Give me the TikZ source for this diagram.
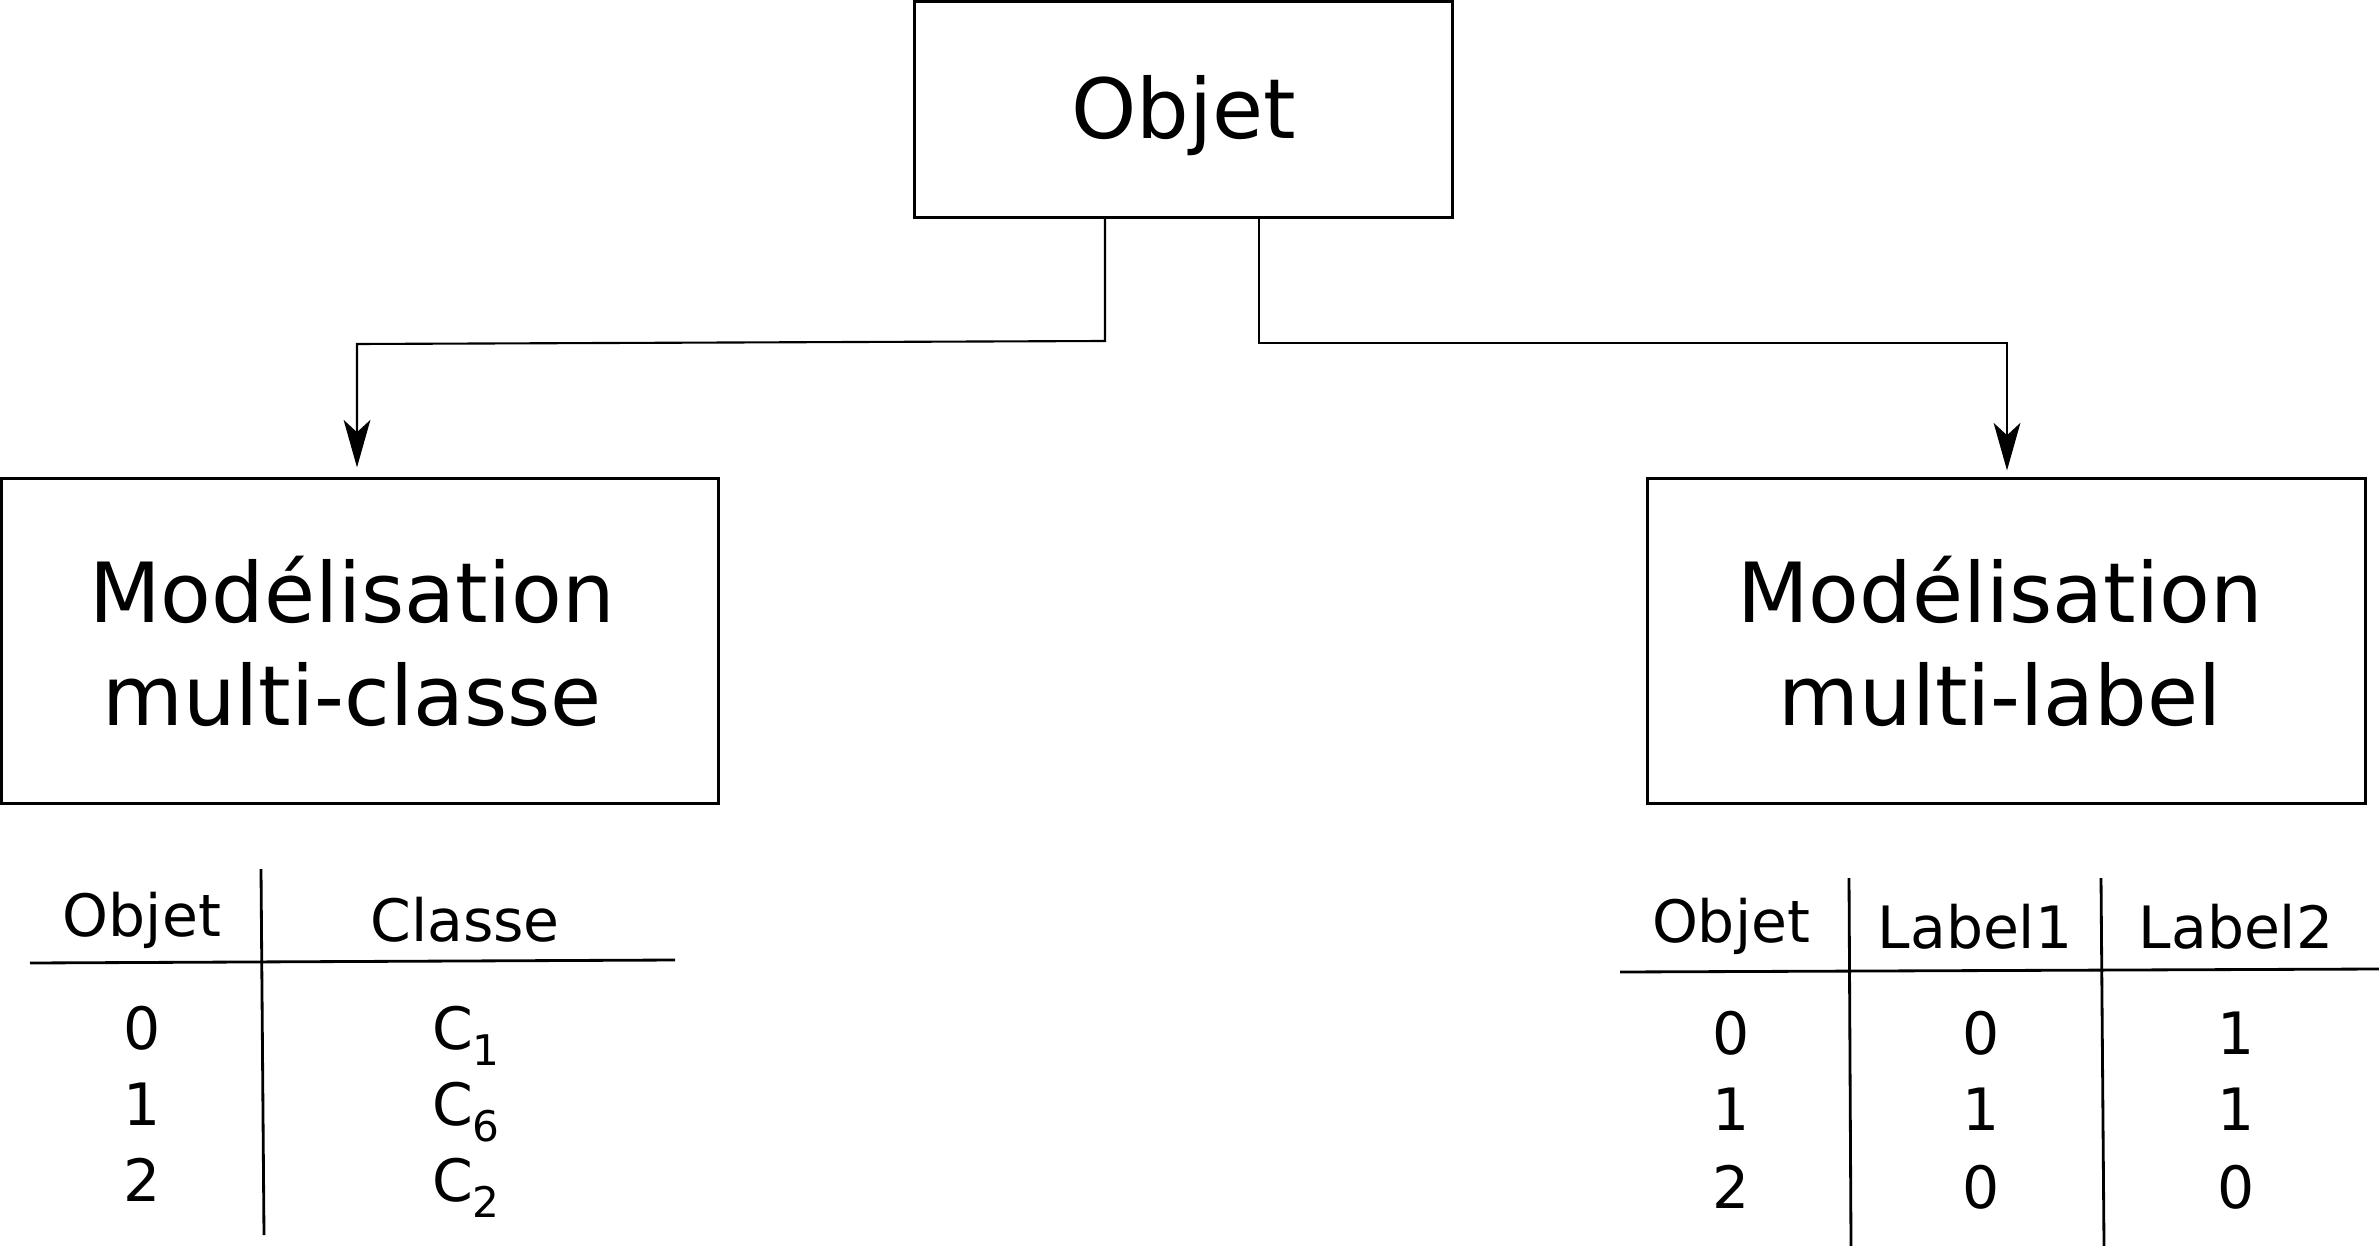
\documentclass[tikz,border=0pt]{standalone}
\usepackage{fontspec}
\setmainfont{DejaVu Sans}
\usetikzlibrary{arrows.meta}
\newcommand{\csub}[1]{C\raisebox{-0.28em}{\fontsize{12}{12}\selectfont #1}}
\begin{document}
\begin{tikzpicture}[x=0.01cm,y=-0.01cm,
  box/.style={draw,line width=0.85pt,rectangle,inner sep=0pt,align=center,
    font=\fontsize{23.6}{29.3}\selectfont},
  conn/.style={line width=0.6pt,-{Stealth[length=13.5pt,width=7.6pt,inset=3.5pt]}},
  tline/.style={line width=0.8pt},
  cell/.style={anchor=base,inner sep=0pt,font=\fontsize{16.6}{20}\selectfont}]
\useasboundingbox (0,0) rectangle (2379,1246);
\clip (0,0) rectangle (2379,1246);

% boxes
\node[box,minimum width=5.37cm,minimum height=2.15cm] (objet) at (1183.5,109.5)
  {\raisebox{0pt}[\dimexpr\height+0.12cm\relax][\depth]{Objet}};
\node[box,minimum width=7.16cm,minimum height=3.24cm] (mc) at (360,641)
  {Modélisation\hspace*{0.16cm}\\multi-classe\hspace*{0.16cm}};
\node[box,minimum width=7.17cm,minimum height=3.24cm] (ml) at (2006.5,641)
  {Modélisation\hspace*{0.13cm}\\multi-label\hspace*{0.13cm}};

% connectors
\coordinate (l1) at (1105,341);
\coordinate (l2) at (357,344);
\coordinate (r1) at (1259,343);
\coordinate (r2) at (2007,343);
\draw[conn,shorten >=0.1cm] (objet.south -| l1) -- (l1) -- (l2) -- (l2 |- mc.north);
\draw[conn,shorten >=0.07cm] (objet.south -| r1) -- (r1) -- (r2) -- (r2 |- ml.north);

% left table
\coordinate (lv1) at (261,869); \coordinate (lv2) at (264,1235);
\coordinate (lh1) at (30,963);  \coordinate (lh2) at (675,960);
\draw[tline] (lv1) -- (lv2);
\draw[tline] (lh1) -- (lh2);
\node[cell] (lhO) at (142,936) {Objet};
\node[cell] (lhC) at (465,941) {Classe};
\node[cell] (lr0) at (142,1049) {0};
\node[cell] (lr1) at (142,1125) {1};
\node[cell] (lr2) at (142,1201) {2};
\node[cell] (lc0) at (466,1049) {\csub{1}};
\node[cell] (lc1) at (466,1125) {\csub{6}};
\node[cell] (lc2) at (466,1201) {\csub{2}};

% right table
\coordinate (rv1a) at (1849,878); \coordinate (rv1b) at (1851,1246);
\coordinate (rv2a) at (2101,878); \coordinate (rv2b) at (2104,1246);
\coordinate (rh1) at (1620,972);  \coordinate (rh2) at (2379,969);
\draw[tline] (rv1a) -- (rv1b);
\draw[tline] (rv2a) -- (rv2b);
\draw[tline] (rh1) -- (rh2);
\node[cell] (rhO) at (1731,942) {Objet};
\node[cell] (rhL1) at (1975,948) {Label1};
\node[cell] (rhL2) at (2236,948) {Label2};
\node[cell] (ra0) at (1731,1054) {0};
\node[cell] (ra1) at (1731,1130) {1};
\node[cell] (ra2) at (1731,1208) {2};
\node[cell] (rb0) at (1981,1054) {0};
\node[cell] (rb1) at (1981,1130) {1};
\node[cell] (rb2) at (1981,1208) {0};
\node[cell] (rc0) at (2236,1054) {1};
\node[cell] (rc1) at (2236,1130) {1};
\node[cell] (rc2) at (2236,1208) {0};
\end{tikzpicture}
\end{document}
